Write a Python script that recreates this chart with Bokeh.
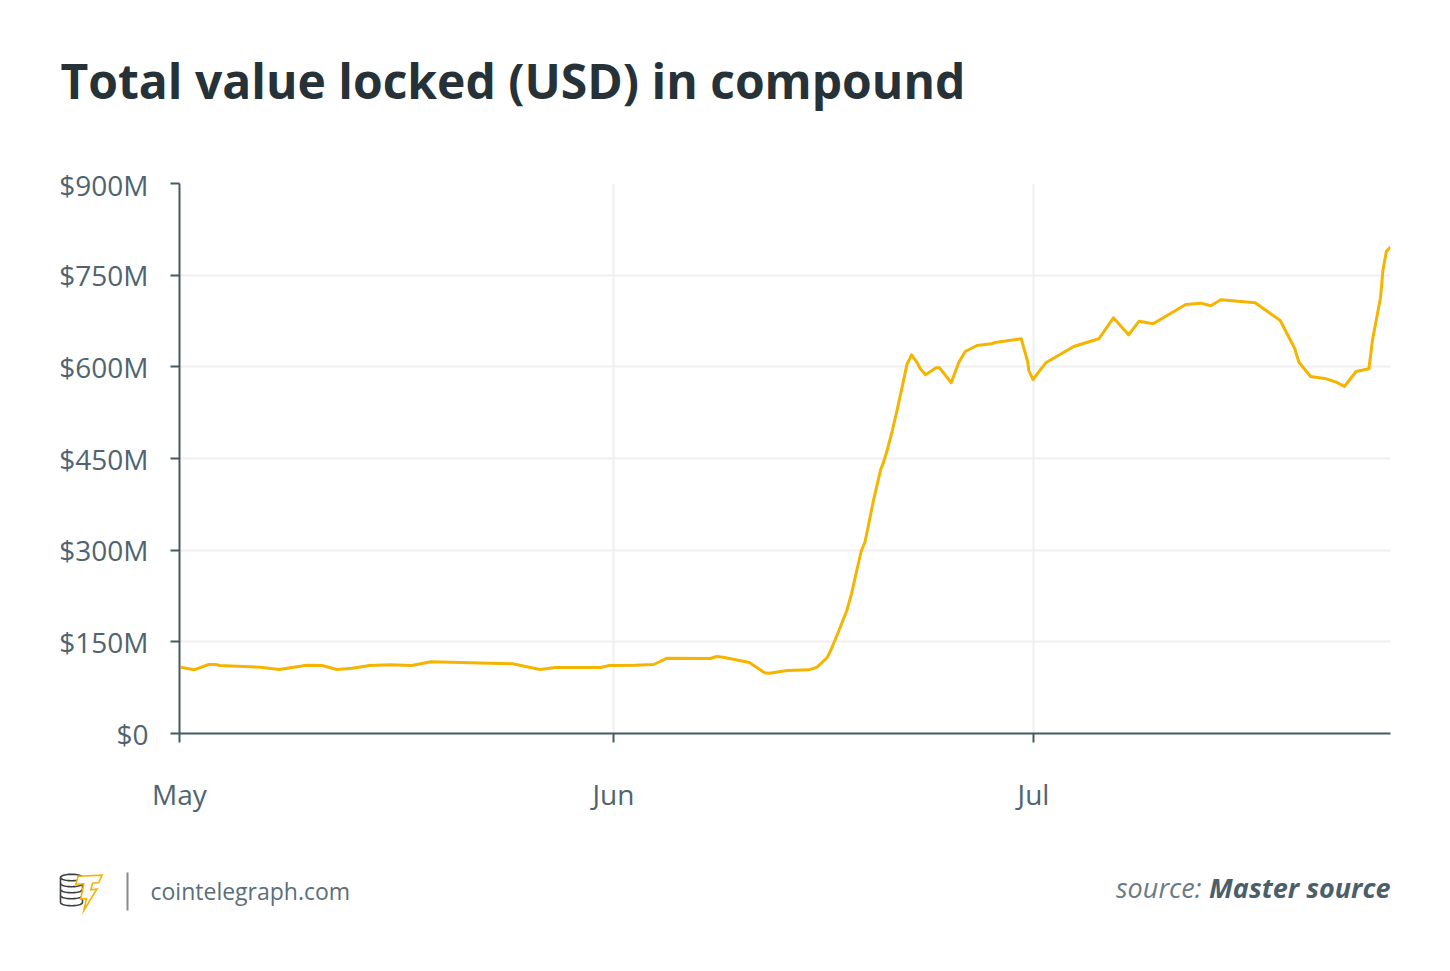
import math
import pandas as pd
from bokeh.plotting import figure
from bokeh.layouts import column
from bokeh.models import ColumnDataSource, Range1d, FixedTicker
from bokeh.core.properties import value
from bokeh.embed import file_html
from bokeh.resources import INLINE

# ---------------- data ----------------
dates = [
    "2020-05-01 02:00", "2020-05-02 01:00", "2020-05-03 02:00", "2020-05-03 14:00",
    "2020-05-03 21:00", "2020-05-06 19:00", "2020-05-08 03:00", "2020-05-10 02:00",
    "2020-05-11 04:00", "2020-05-12 06:00", "2020-05-13 08:00", "2020-05-14 14:00",
    "2020-05-16 01:00", "2020-05-17 14:00", "2020-05-18 23:00", "2020-05-24 19:00",
    "2020-05-26 18:00", "2020-05-27 20:00", "2020-05-31 02:00", "2020-05-31 17:00",
    "2020-06-02 12:00", "2020-06-03 21:00", "2020-06-04 20:00", "2020-06-07 22:00",
    "2020-06-08 09:00", "2020-06-08 20:00", "2020-06-10 17:00", "2020-06-11 19:00",
    "2020-06-12 03:00", "2020-06-13 10:00", "2020-06-14 23:00", "2020-06-15 13:00",
    "2020-06-16 06:00", "2020-06-16 11:00", "2020-06-16 23:00", "2020-06-17 16:00",
    "2020-06-18 00:00", "2020-06-18 09:00", "2020-06-18 17:00", "2020-06-18 23:00",
    "2020-06-19 05:00", "2020-06-19 13:00", "2020-06-20 02:00", "2020-06-20 07:00",
    "2020-06-20 13:00", "2020-06-20 22:00", "2020-06-21 06:00", "2020-06-21 16:00",
    "2020-06-21 23:00", "2020-06-22 07:00", "2020-06-22 17:00", "2020-06-22 22:00",
    "2020-06-23 07:00", "2020-06-24 01:00", "2020-06-24 07:00", "2020-06-25 03:00",
    "2020-06-25 16:00", "2020-06-26 03:00", "2020-06-26 23:00", "2020-06-28 00:00",
    "2020-06-28 06:00", "2020-06-30 03:00", "2020-06-30 14:00", "2020-06-30 16:00",
    "2020-06-30 23:00", "2020-07-01 21:00", "2020-07-03 21:00", "2020-07-05 16:00",
    "2020-07-06 17:00", "2020-07-07 19:00", "2020-07-08 13:00", "2020-07-09 13:00",
    "2020-07-11 21:00", "2020-07-12 23:00", "2020-07-13 16:00", "2020-07-14 09:00",
    "2020-07-16 20:00", "2020-07-18 15:00", "2020-07-19 16:00", "2020-07-19 23:00",
    "2020-07-20 19:00", "2020-07-21 22:00", "2020-07-22 15:00", "2020-07-23 05:00",
    "2020-07-24 01:00", "2020-07-24 23:00", "2020-07-25 05:00", "2020-07-25 19:00",
    "2020-07-25 23:00", "2020-07-26 05:00", "2020-07-26 12:00",
]
tvl_musd = [
    108.5, 104.2, 112.9, 112.9,
    111.3, 108.5, 104.7, 111.8,
    111.3, 104.7, 106.9, 111.3,
    112.4, 111.3, 117.3, 114.1,
    104.7, 108.0, 108.0, 111.3,
    111.8, 112.9, 123.2, 122.7,
    126.0, 124.9, 116.2, 99.3,
    98.7, 103.1, 104.2, 108.5,
    123.9, 133.0, 160.4, 201.3,
    228.6, 266.7, 299.5, 313.0,
    340.4, 378.5, 432.0, 444.0,
    463.1, 495.8, 528.6, 572.2,
    603.8, 619.7, 606.0, 596.8,
    587.0, 598.4, 598.4, 573.9,
    607.6, 625.1, 634.9, 637.7,
    639.8, 645.9, 608.7, 594.0,
    579.3, 606.6, 633.3, 645.9,
    680.2, 652.4, 674.7, 670.4,
    702.0, 704.2, 699.9, 709.7,
    704.8, 675.8, 629.5, 607.6,
    584.2, 580.4, 574.9, 567.8,
    592.4, 596.8, 643.1, 714.0,
    757.7, 789.2, 795.8,
]
x_start = "2020-05-01 00:00"
x_end = "2020-07-26 12:00"
month_ticks = ["2020-05-01", "2020-06-01", "2020-07-01"]
month_labels = ["May", "Jun", "Jul"]
y_ticks = [0, 150, 300, 450, 600, 750, 900]
y_tick_labels = ["$0", "$150M", "$300M", "$450M", "$600M", "$750M", "$900M"]

title_text = "Total value locked (USD) in compound"
site_text = "cointelegraph.com"
source_prefix = "source:"
source_name = "Master source"

# ---------------- style ----------------
FONT = "Open Sans"
AXIS_COL = "#455A64"
LABEL_COL = "#4F6470"
GRID_COL = "#EFEFEF"
LINE_COL = "#F5B400"
TITLE_COL = "#263238"

W = 1434
H_HEAD, H_MAIN, H_FOOT = 165, 675, 115
FRAME_L, FRAME_R, FRAME_T, FRAME_B = 179, 1390, 183, 733


def ms(s):
    return int(pd.Timestamp(s).value // 10**6)


def no_align(f):
    try:
        f.frame_align = False
    except Exception:
        pass


def blank(height):
    f = figure(width=W, height=height, output_backend="svg", toolbar_location=None,
               title=None,
               x_range=Range1d(0, W), y_range=Range1d(height, 0),
               x_axis_location=None, y_axis_location=None,
               min_border=0, min_border_left=0, min_border_right=0,
               min_border_top=0, min_border_bottom=0)
    f.outline_line_color = None
    f.grid.visible = False
    f.background_fill_color = "white"
    f.border_fill_color = "white"
    no_align(f)
    return f


# ---------------- header ----------------
head = blank(H_HEAD)
head.text(x=[60], y=[80], text=[title_text], text_font=value(FONT),
          text_font_size=value("48px"), text_font_style=value("bold"),
          text_color=TITLE_COL, text_baseline=value("alphabetic"),
          text_align=value("left"))

# ---------------- main chart ----------------
src = ColumnDataSource(dict(date=pd.to_datetime(dates), tvl=tvl_musd))

p = figure(width=W, height=H_MAIN, x_axis_type="datetime",
           output_backend="svg", toolbar_location=None, title=None,
           x_range=Range1d(pd.Timestamp(x_start), pd.Timestamp(x_end)),
           y_range=Range1d(0, 900))
no_align(p)
p.min_border_left = FRAME_L
p.min_border_right = W - FRAME_R
p.min_border_top = FRAME_T - H_HEAD
p.min_border_bottom = H_HEAD + H_MAIN - FRAME_B
p.outline_line_color = None
p.background_fill_color = "white"
p.border_fill_color = "white"

xt = [ms(m) for m in month_ticks]
p.xaxis.ticker = FixedTicker(ticks=xt)
p.xaxis.major_label_overrides = {t: l for t, l in zip(xt, month_labels)}
p.yaxis.ticker = FixedTicker(ticks=y_ticks)
p.yaxis.major_label_overrides = {t: l for t, l in zip(y_ticks, y_tick_labels)}
p.xgrid.ticker = FixedTicker(ticks=xt)
p.ygrid.ticker = FixedTicker(ticks=y_ticks)

for ax in (p.xaxis, p.yaxis):
    ax.axis_line_color = AXIS_COL
    ax.axis_line_width = 2
    ax.major_tick_line_color = AXIS_COL
    ax.major_tick_line_width = 2
    ax.major_tick_in = 0
    ax.major_tick_out = 9
    ax.minor_tick_line_color = None
    ax.major_label_text_font = FONT
    ax.major_label_text_font_size = "28px"
    ax.major_label_text_color = LABEL_COL
p.xaxis.major_label_standoff = 32
p.yaxis.major_label_standoff = 22

for g in (p.xgrid, p.ygrid):
    g.grid_line_color = GRID_COL
    g.grid_line_width = 2

p.line(x="date", y="tvl", source=src, line_color=LINE_COL, line_width=3,
       line_join="round")

# ---------------- footer ----------------
OFF = H_HEAD + H_MAIN  # page y of footer top
foot = blank(H_FOOT)


def fy(Y):
    return Y - OFF


foot.text(x=[150], y=[fy(890)], text=[site_text], text_font=value(FONT),
          text_font_size=value("23px"), text_color="#5B6E79",
          text_baseline=value("middle"), text_align=value("left"))
foot.text(x=[1390], y=[fy(887)], text=[source_name], text_font=value(FONT),
          text_font_size=value("27px"), text_font_style=value("bold italic"),
          text_color="#4B5F6B", text_baseline=value("alphabetic"),
          text_align=value("right"))
foot.text(x=[1201], y=[fy(887)], text=[source_prefix], text_font=value(FONT),
          text_font_size=value("27px"), text_font_style=value("italic"),
          text_color="#6A7B85", text_baseline=value("alphabetic"),
          text_align=value("right"))
# separator
foot.segment(x0=[127], y0=[fy(872)], x1=[127], y1=[fy(910)],
             line_color="#8A8A8A", line_width=2)


# logo: coin stack + lightning
def ellipse_pts(cx, cy, rx, ry, a0, a1, n=24):
    xs = [cx + rx * math.cos(a0 + (a1 - a0) * i / n) for i in range(n + 1)]
    ys = [cy + ry * math.sin(a0 + (a1 - a0) * i / n) for i in range(n + 1)]
    return xs, ys


COIN = "#3A3F44"
cx, rx, ry = 71, 11, 3.2
tx, ty = ellipse_pts(cx, 877, rx, ry, math.pi, 2 * math.pi)
bx, by = ellipse_pts(cx, 902, rx, ry, 0, math.pi)
foot.patch(x=tx + bx, y=[fy(v) for v in ty + by], fill_color="white",
           line_color=COIN, line_width=1.6)
arcs_x, arcs_y = [], []
for cy in (877, 883, 889, 895):
    ax_, ay_ = ellipse_pts(cx, cy, rx, ry, 0, math.pi)
    arcs_x.append(ax_)
    arcs_y.append([fy(v) for v in ay_])
foot.multi_line(xs=arcs_x, ys=arcs_y, line_color=COIN, line_width=1.6)
bolt_x = [77.6, 101.7, 98.2, 92.0, 90.3, 96.4, 83.3, 85.9, 80.2, 83.3, 75.4]
bolt_y = [875.7, 874.7, 882.3, 882.7, 889.2, 888.5, 910.0, 898.2, 898.6, 883.3, 883.7]
foot.patch(x=bolt_x, y=[fy(v) for v in bolt_y], fill_color="white",
           line_color=LINE_COL, line_width=1.6, line_join="miter")

layout = column(head, p, foot, spacing=0)
open("out.html", "w").write(file_html(layout, INLINE))
